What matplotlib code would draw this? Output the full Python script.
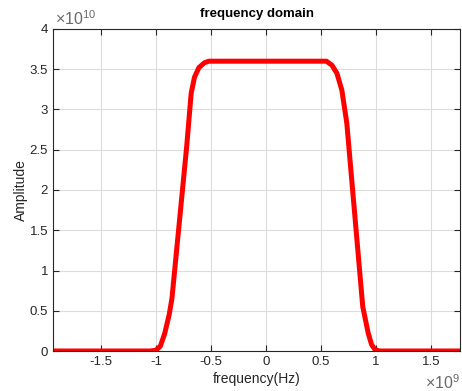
import matplotlib
matplotlib.use("Agg")
import matplotlib.pyplot as plt
from matplotlib.ticker import FuncFormatter

plt.rcParams['font.family'] = ['Liberation Sans', 'DejaVu Sans']
plt.rcParams['mathtext.fontset'] = 'custom'
plt.rcParams['mathtext.rm'] = 'Liberation Sans'

# spectrum samples (Hz, amplitude)
freq = [-1.94e9, -1.05e9, -1.00e9, -0.96e9, -0.92e9, -0.88e9, -0.855e9,
        -0.72e9, -0.68e9, -0.65e9, -0.61e9, -0.56e9, -0.52e9,
        0.55e9, 0.60e9, 0.645e9, 0.69e9, 0.735e9, 0.88e9, 0.93e9,
        0.96e9, 0.99e9, 1.03e9, 1.77e9]
amp = [0, 0, 0.01e10, 0.06e10, 0.22e10, 0.45e10, 0.65e10,
       2.55e10, 3.2e10, 3.4e10, 3.52e10, 3.58e10, 3.6e10,
       3.6e10, 3.55e10, 3.45e10, 3.24e10, 2.83e10, 0.55e10, 0.22e10,
       0.08e10, 0.02e10, 0, 0]

xticks = [-1.5e9, -1e9, -0.5e9, 0, 0.5e9, 1e9, 1.5e9]
yticks = [0, 0.5e10, 1e10, 1.5e10, 2e10, 2.5e10, 3e10, 3.5e10, 4e10]

txt = '#262626'

fig = plt.figure(figsize=(4.62, 3.91), dpi=100)
ax = fig.add_axes([53/462, 40/391, 407/462, 322/391])
ax.plot(freq, amp, color='red', lw=3.6, solid_capstyle='butt')
ax.set_xlim(-1.936e9, 1.764e9)
ax.set_ylim(0, 4e10)
ax.set_xticks(xticks)
ax.set_yticks(yticks)
ax.xaxis.set_major_formatter(FuncFormatter(lambda v, p: '%g' % (v / 1e9)))
ax.yaxis.set_major_formatter(FuncFormatter(lambda v, p: '%g' % (v / 1e10)))
ax.grid(True, color='#dcdcdc', lw=0.8)
ax.set_axisbelow(True)
ax.tick_params(direction='in', length=4, width=0.8, colors=txt, labelsize=9.5,
               top=True, right=True, labeltop=False, labelright=False)
for s in ax.spines.values():
    s.set_color(txt)
    s.set_linewidth(0.8)

ax.set_title('frequency domain', fontsize=9.5, fontweight='bold', color='black', pad=9)
ax.set_xlabel('frequency(Hz)', fontsize=10, color=txt, labelpad=3)
ax.set_ylabel('Amplitude', fontsize=10, color=txt, labelpad=1)
ax.text(0.005, 1.004, r'$\times10^{10}$', transform=ax.transAxes, fontsize=11.5,
        color='#6a6a6a', ha='left', va='bottom')
ax.text(1.0, -0.07, r'$\times10^{9}$', transform=ax.transAxes, fontsize=11.5,
        color='#6a6a6a', ha='right', va='top')

fig.savefig('out.png', dpi=100)
